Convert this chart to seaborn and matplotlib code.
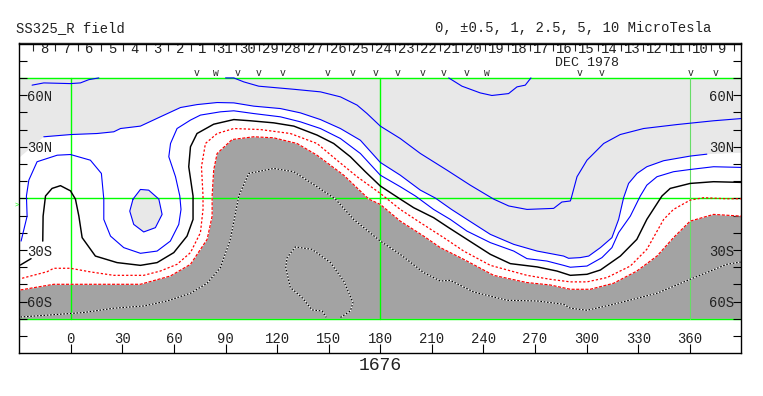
import numpy as np
import pandas as pd
import matplotlib
matplotlib.use("Agg")
import matplotlib.pyplot as plt
import seaborn as sns

# --- contour traces: (longitude, latitude) ---
level_a = [(-15.7,35.8),(0,37.1),(15.3,37.7),(25,38.7),(28.9,40.6),(40.5,42),(52.1,47.4),(63.8,52.8),(73.4,54.5),(85.1,55.7),(94.8,55.5),(106.4,53.6),(121.9,52.2),(133.5,49.7),(145.2,45.8),(156.8,40.6),(168.4,33.8),(180,20.9),(191.6,13.5),(203.3,4.8),(212,0.2),(221.4,-6.4),(230.4,-12.2),(244,-20.9),(257.6,-26.7),(271.2,-30.6),(286.6,-33.5),(289.5,-34.8),(296.3,-34.4),(301.2,-33.5),(308,-28.6),(314.7,-22.8),(318.6,-12.2),(321.5,0.4),(324.4,8.7),(329.3,14.5),(335,18.4),(344.8,21.9),(360.3,24.6),(369.9,25.7)]
level_c = [(90,70),(94.8,70),(100.6,67.7),(109.3,65.2),(129.7,63.4),(145.2,61.9),(156.8,59),(166.5,54.2),(172.3,49.3),(180,42),(191.6,34.8),(203.3,26.1),(218.8,16.4),(232.3,7.7),(245.9,-0.4),(254.7,-4.4),(265.3,-6.4),(280.8,-5.8),(285.6,-2.1),(290.5,-1.5),(290.9,-0.4),(294.4,12.6),(300.2,22.2),(309.9,31.9),(319.5,37.1),(333.1,40.6),(352.5,42.9),(373.8,45.1),(390,46.4)]
level_b = [(-22.5,65.8),(-15.7,67.1),(-0.2,66.7),(5.6,67.1),(10.5,69),(16.3,70)]
level_d = [(219.8,70),(227.5,65.2),(238.1,61.3),(244.9,59.8),(254.6,60.9),(259.5,64.8),(264.3,65.8),(267.6,70)]
level_e = [(-28.9,-24.8),(-25.4,-10.3),(-25.8,1.4),(-24.4,10.6),(-19.6,21.3),(-7.9,25.1),(-0.2,25.5),(11.4,22.2),(17.8,14.5),(19.2,-0.4),(19.2,-12.2),(23.1,-21.9),(30.8,-28.6),(40.5,-31.9),(50.2,-30.6),(57.9,-24.8),(62.8,-15.1),(64.1,-6.4),(63.4,1.4),(60.9,12.6),(57,24.2),(58,31.9),(61.8,40.6),(69.6,45.5),(75.4,48.4),(87,50.3),(94.8,50.9),(106.4,49.3),(121.9,47.4),(133.5,44.5),(145.2,40.6),(156.8,34.8),(168.4,26.1),(180,13.5),(191.6,6.8),(200.4,1.4),(211,-6.4),(220.7,-12.2),(230.4,-19),(244,-25.7),(257.6,-30.6),(265.3,-35),(276.9,-36.4),(286.6,-38.9),(290.5,-40),(300.2,-39.3),(308.9,-34.4),(314.7,-28.6),(318.6,-19.9),(325.4,-10.3),(331.2,1.4),(335,7.7),(340.9,12.6),(350.5,15.5),(360.2,16.8),(373.8,18.4),(390,18)]
blob = [(36.2,-0.4),(40.5,5.2),(45.3,4.8),(51.2,-0.4),(53.1,-9.3),(49.2,-17),(42.4,-19.5),(36.6,-15.1),(34.3,-7.4),(36.2,-0.4)]
black_main = [(-16.3,-24.8),(-16.1,-10.3),(-14.7,1.4),(-10.9,5.8),(-6,7.4),(-0.2,4.4),(2.7,-0.4),(4.7,-10.3),(6.6,-22.8),(14.3,-33.5),(26.9,-37.3),(40.5,-38.9),(50.2,-37.3),(59.9,-31.5),(67.6,-21.9),(71.1,-12.2),(71.1,1.4),(68.6,18.4),(69.6,30),(73.4,37.7),(83.1,43.1),(94.8,45.8),(104.5,45.1),(118,43.9),(129.7,42),(143.2,36.8),(152.9,31.9),(162.6,24.2),(171.3,15.5),(180,7.2),(191.6,-0.4),(199.4,-5.4),(211,-11.2),(219.8,-17),(230.4,-23.8),(244,-32.5),(255.6,-37.9),(271.2,-39.8),(282.7,-42.2),(290.5,-44.7),(300.2,-44.1),(308,-41.6),(319.6,-33.5),(329.2,-23.8),(335,-12.2),(343.8,1.4),(348.6,5.8),(360.2,8.7),(373.8,9.7),(390,9.3)]
black_stub = [(-29.3,-38.7),(-23.1,-35)]
red_outer = [(-28.3,-46.4),(-13.8,-42.6),(-9.9,-40.6),(-0.2,-40.6),(11.4,-42.7),(25,-44.7),(42.4,-44.7),(52.1,-42.2),(61.8,-38.3),(69.6,-31.5),(75.4,-19.9),(76.9,-6.4),(76.9,1.4),(76,18.4),(78.3,31.9),(85.1,37.7),(94.8,40.6),(110.3,40),(127.7,37.7),(143.2,31.9),(154.8,22.2),(166.5,12.6),(180,2.9),(191.6,-6.4),(203.3,-14.1),(216.9,-22.8),(228.5,-30.6),(244,-38.9),(265.3,-44.7),(278.8,-47),(290.5,-48.5),(300.2,-48.5),(311.8,-46),(325.4,-39.3),(335,-29.6),(344.8,-12.2),(350.5,-6.4),(360.2,-1),(368,0.4),(381.5,-0.2),(390,-0.2)]
red_inner = [(-29.3,-53.2),(-9.9,-49.9),(40.5,-49.9),(57.9,-45.1),(69.6,-38.3),(79.3,-23.8),(82.2,-10.3),(82.2,1.4),(83.1,16.4),(85.1,26.1),(93.8,34.2),(106.4,35.8),(118,35.2),(131.6,31.9),(143.2,25.1),(158.7,13.5),(173.3,-0.4),(180,-3.5),(191.6,-13.2),(205.2,-21.9),(214.9,-28.6),(228.5,-35.4),(245.9,-44.7),(265.3,-48.9),(278.8,-50.3),(290.5,-52.8),(302.1,-52.8),(315.7,-49.3),(329.2,-42.2),(340.9,-33.5),(350.5,-22.8),(360.2,-13.2),(373.8,-9.3),(390,-10.3)]
dotted_main = [(-29.3,-68.9),(-11.8,-67.7),(7.6,-66.3),(25,-63.8),(42.4,-62.5),(56,-59.6),(69.6,-55.1),(79.3,-49.3),(87,-40.2),(92.8,-23.8),(97.7,1.4),(103.5,14.5),(118,17.4),(129.7,15.5),(143.2,6.8),(153.9,-0.4),(164.5,-12.2),(180,-24.8),(191.6,-32.5),(205.2,-43.1),(214.9,-48),(220.7,-47.6),(234.3,-54.4),(253.7,-59.2),(271.2,-59.6),(286.6,-61.5),(290.5,-63.8),(300.2,-65),(315.7,-61.5),(340.9,-55.1),(360.2,-47),(381.5,-38.3),(390,-36.9)]
dotted_oval = [(156.8,-69.2),(162.6,-65.4),(164.1,-60.5),(158.7,-48),(151,-37.3),(140.3,-29.6),(130.6,-28.2),(125.8,-34.4),(125,-40.2),(127.7,-51.8),(134.5,-57.6),(140.3,-64.8),(146.1,-65.4),(148.6,-69.2)]

lon_ticks = [0, 30, 60, 90, 120, 150, 180, 210, 240, 270, 300, 330, 360]
lat_ticks = [-80, -70, -60, -50, -40, -30, -20, -10, 0, 10, 20, 30, 40, 50, 60, 70, 80]
lat_labels = {60: "60N", 30: "30N", -30: "30S", -60: "60S"}
date_labels = ["8","7","6","5","4","3","2","1","31","30","29","28","27","26","25","24",
               "23","22","21","20","19","18","17","16","15","14","13","12","11","10","9"]
date_first_edge = -22.1
date_step = 13.15
obs_single = [72.9,97.1,109.3,122.9,149.4,164.1,177.1,190.1,204.6,216.9,230,295.9,308.9,360.3,374.8]
obs_double = [84.5,242.1]

# --- style ---
BLUE, RED, GREEN = "#0000ff", "#ff0000", "#00ff00"
LIGHT, DARK = "#e8e8e8", "#a3a3a3"
INK = "#222222"
THIN = 0.8

sns.set_style("white")
plt.rcParams["font.family"] = ["Liberation Mono", "DejaVu Sans Mono"]

fig = plt.figure(figsize=(7.63, 3.96), dpi=100)
ax = fig.add_axes([19.2 / 763, 1 - 353.3 / 396, 722.2 / 763, 309.8 / 396])
ax.set_xlim(-30, 390)
ax.set_ylim(-90, 90)
ax.set_axisbelow(False)


def xy(trace):
    frame = pd.DataFrame(trace, columns=["lon", "lat"])
    return frame["lon"], frame["lat"]


def draw(trace, color, z=3, **kw):
    x, y = xy(trace)
    sns.lineplot(x=x, y=y, sort=False, estimator=None, color=color, ax=ax,
                 linewidth=kw.pop("linewidth", THIN), zorder=z, legend=False, **kw)


# shaded regions
gx, gy = xy([(-30, 23.5), (-29.3, 24.2)] + level_a + [(390, 26.5), (390, 70), (-30, 70)])
ax.fill(gx, gy, color=LIGHT, lw=0, zorder=1)
bx, by = xy(blob)
ax.fill(bx, by, color=LIGHT, lw=0, zorder=1)
dx, dy = xy([(-30, -53.4)] + red_inner + [(390, -70), (-30, -70)])
ax.fill(dx, dy, color=DARK, lw=0, zorder=1.1)

# green reference grid
for lat in (70, 0, -70):
    ax.plot([-30, 390], [lat, lat], color=GREEN, lw=1.0, zorder=2)
for lon, col, w in ((0, GREEN, 1.0), (180, GREEN, 1.0), (360, "#66dd66", 0.8)):
    ax.plot([lon, lon], [-70, 70], color=col, lw=w, zorder=2)

# contours
for trace in (level_a, level_c, level_b, level_d, level_e, blob):
    draw(trace, BLUE)
for trace in (black_main, black_stub):
    draw(trace, "black", linewidth=1.05)
draw(red_outer, RED, linewidth=0.9, linestyle=(0, (1.8, 1.6)))
draw(red_inner, "white", z=2.9, linewidth=0.7)
draw(red_inner, RED, linewidth=0.85, linestyle=(0, (2.6, 1.3)))
for trace in (dotted_main, dotted_oval):
    draw(trace, "white", z=2.9, linewidth=0.8)
    draw(trace, "black", linewidth=0.85, linestyle=(0, (1.4, 1.4)))

# bottom longitude axis, ticks and labels inside the frame
ax.set_xticks(lon_ticks)
ax.set_xticklabels([str(v) for v in lon_ticks])
ax.tick_params(axis="x", direction="in", length=6.6, width=0.8, color="black",
               pad=-15.5, labelsize=10, labelcolor=INK, bottom=True, top=False)

# latitude axis on both sides
ax.set_yticks(lat_ticks)
ax.set_yticklabels([lat_labels.get(v, "") for v in lat_ticks])
ax.tick_params(axis="y", direction="in", length=5.6, width=0.8, color="black",
               left=True, right=True, labelleft=True, labelright=True,
               labelsize=10, labelcolor=INK)
for t in ax.yaxis.get_major_ticks():
    t.set_pad(-23.5)
for s in ax.spines.values():
    s.set_visible(True)
    s.set_color("black")
    s.set_linewidth(1.0)

# top date axis (rotation days)
edges = date_first_edge + date_step * np.arange(len(date_labels) + 1)
centers = edges[:-1] + date_step / 2
top = ax.secondary_xaxis("top")
top.set_xticks(edges)
top.set_xticklabels([])
top.set_xticks(centers, date_labels, minor=True)
top.tick_params(axis="x", which="major", direction="in", length=5.8, width=0.8)
top.tick_params(axis="x", which="minor", length=0, pad=-9.2, labelsize=10, labelcolor=INK)
top.spines["top"].set_linewidth(1.0)

# observation marks above the data box
for lon in obs_single:
    ax.text(lon, 70.2, "v", ha="center", va="bottom", fontsize=7, color=INK, zorder=4)
for lon in obs_double:
    ax.text(lon, 70.2, "w", ha="center", va="bottom", fontsize=7, color=INK, zorder=4)

ax.text(300, 78.8, "DEC 1978", ha="center", va="center", fontsize=9.5, color=INK)
ax.text(-30.3, -4, ">", ha="right", va="center", fontsize=5, color=GREEN, clip_on=False)

fig.text(16 / 763, 1 - 28 / 396, "SS325_R field", fontsize=10, va="center", color=INK)
fig.text(711 / 763, 1 - 28 / 396, "0, \u00b10.5, 1, 2.5, 5, 10 MicroTesla", fontsize=10,
         ha="right", va="center", color=INK)
ax.set_xlabel("")
ax.set_ylabel("")
fig.text(380 / 763, 1 - 366 / 396, "1676", fontsize=13, ha="center", va="center", color=INK)

fig.savefig("out.png", dpi=100)
